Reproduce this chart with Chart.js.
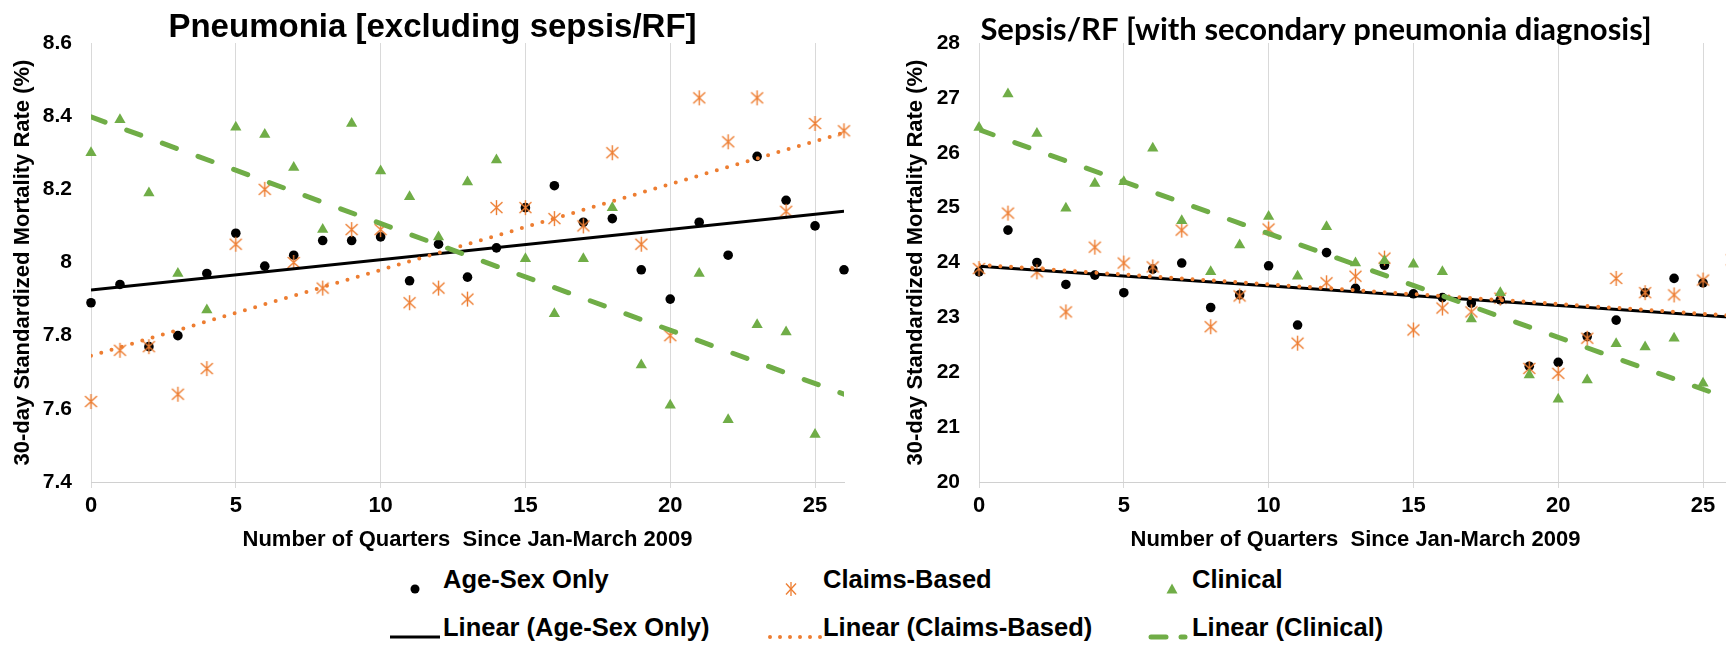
<!DOCTYPE html>
<html>
<head>
<meta charset="utf-8">
<script src="https://cdn.jsdelivr.net/npm/chart.js@4.4.1/dist/chart.umd.min.js"></script>
<style>
    html, body { margin: 0; padding: 0; background: #fff; width: 1726px; height: 654px; overflow: hidden; }
    #left_chart { position: absolute; left: 0; top: 0; }
    #right_chart { position: absolute; left: 860px; top: 0; }
    .legend_item { position: absolute; height: 48px; line-height: 48px; white-space: nowrap;
        font: bold 25.5px "Liberation Sans", Arial, sans-serif; color: #000; }
    .legend_item svg { position: absolute; left: 0; top: 0; }
    .legend_item span { position: absolute; top: 0; }
</style>
</head>
<body>
<canvas id="left_chart" width="865" height="554"></canvas>
<canvas id="right_chart" width="912" height="554"></canvas>
<div id="legend"></div>
<script>
'use strict';

const quarters = [0, 1, 2, 3, 4, 5, 6, 7, 8, 9, 10, 11, 12, 13, 14, 15, 16, 17, 18, 19, 20, 21, 22, 23, 24, 25, 26];
const xTicks = [0, 5, 10, 15, 20, 25];
const trendX = [0, 26];

// Pneumonia [excluding sepsis/RF]
const leftAgeSex = [7.89, 7.94, 7.77, 7.80, 7.97, 8.08, 7.99, 8.02, 8.06, 8.06, 8.07, 7.95, 8.05, 7.96,
    8.04, 8.15, 8.21, 8.11, 8.12, 7.98, 7.90, 8.11, 8.02, 8.29, 8.17, 8.10, 7.98];
const leftClaims = [7.62, 7.76, 7.77, 7.64, 7.71, 8.05, 8.20, 8.00, 7.93, 8.09, 8.09, 7.89, 7.93, 7.90,
    8.15, 8.15, 8.12, 8.10, 8.30, 8.05, 7.80, 8.45, 8.33, 8.45, 8.14, 8.38, 8.36];
const leftClinical = [8.30, 8.39, 8.19, 7.97, 7.87, 8.37, 8.35, 8.26, 8.09, 8.38, 8.25, 8.18, 8.07, 8.22,
    8.28, 8.01, 7.86, 8.01, 8.15, 7.72, 7.61, 7.97, 7.57, 7.83, 7.81, 7.53, null];
const leftAgeSexTrend = [7.925, 8.14];
const leftClaimsTrend = [7.745, 8.355];
const leftClinicalTrend = [8.398, 7.64];
const leftYTicks = [7.4, 7.6, 7.8, 8, 8.2, 8.4, 8.6];
const leftYLabels = ['7.4', '7.6', '7.8', '8', '8.2', '8.4', '8.6'];

// Sepsis/RF [with secondary pneumonia diagnosis]
const rightAgeSex = [23.83, 24.59, 24.00, 23.60, 23.77, 23.45, 23.88, 23.99, 23.18, 23.41, 23.94, 22.86, 24.18, 23.53,
    23.95, 23.43, 23.36, 23.26, 23.32, 22.11, 22.18, 22.65, 22.95, 23.45, 23.71, 23.63, null];
const rightClaims = [23.89, 24.90, 23.83, 23.10, 24.28, 23.99, 23.92, 24.59, 22.83, 23.39, 24.61, 22.53, 23.63, 23.75,
    24.08, 22.77, 23.17, 23.10, 23.35, 22.07, 21.98, 22.62, 23.71, 23.45, 23.41, 23.68, 24.05];
const rightClinical = [26.46, 27.07, 26.35, 24.99, 25.44, 25.47, 26.08, 24.76, 23.83, 24.32, 24.84, 23.75, 24.65, 23.99,
    24.03, 23.97, 23.83, 22.97, 23.45, 21.95, 21.51, 21.86, 22.52, 22.46, 22.62, 21.80, null];
const rightAgeSexTrend = [23.93, 23.0];
const rightClaimsTrend = [23.96, 23.03];
const rightClinicalTrend = [26.42, 21.5];
const rightYTicks = [20, 21, 22, 23, 24, 25, 26, 27, 28];
const rightYLabels = ['20', '21', '22', '23', '24', '25', '26', '27', '28'];

const seriesNames = ['Age-Sex Only', 'Claims-Based', 'Clinical'];
const xTitle = 'Number of Quarters  Since Jan-March 2009';
const yTitle = '30-day Standardized Mortality Rate (%)';

const BLACK = '#000000';
const ORANGE = '#ED7D31';
const GREEN = '#70AD47';
const ARIAL = '"Liberation Sans", Arial, sans-serif';

function make_star() {
    const c = document.createElement('canvas');
    c.width = 17;
    c.height = 17;
    const ctx = c.getContext('2d');
    ctx.strokeStyle = ORANGE;
    ctx.lineWidth = 1.4;
    ctx.beginPath();
    ctx.moveTo(2.5, 3); ctx.lineTo(14.5, 14);
    ctx.moveTo(14.5, 3); ctx.lineTo(2.5, 14);
    ctx.moveTo(8.5, 1); ctx.lineTo(8.5, 16);
    ctx.stroke();
    return c;
}
const star = make_star();

function points(values) {
    return values.map((v, i) => ({x: quarters[i], y: v}));
}

function trend(ends) {
    return trendX.map((x, i) => ({x: x, y: ends[i]}));
}

function build_datasets(ageSex, claims, clinical, ageSexTrend, claimsTrend, clinicalTrend) {
    return [{
        label: seriesNames[0], data: points(ageSex), order: 6, clip: false,
        pointStyle: 'circle', pointRadius: 4.8, borderWidth: 0,
        backgroundColor: BLACK, borderColor: BLACK,
    }, {
        label: seriesNames[1], data: points(claims), order: 5, clip: false,
        pointStyle: star, pointRadius: 8,
        backgroundColor: ORANGE, borderColor: ORANGE,
    }, {
        label: seriesNames[2], data: points(clinical), order: 4, clip: false,
        pointStyle: 'triangle', pointRadius: 6.5, borderWidth: 0,
        backgroundColor: GREEN, borderColor: GREEN,
    }, {
        label: 'Linear (' + seriesNames[0] + ')', data: trend(ageSexTrend), order: 3,
        showLine: true, pointRadius: 0, borderWidth: 3, borderColor: BLACK,
    }, {
        label: 'Linear (' + seriesNames[1] + ')', data: trend(claimsTrend), order: 2,
        showLine: true, pointRadius: 0, borderWidth: 4, borderColor: ORANGE,
        borderDash: [0, 10.7], borderCapStyle: 'round',
    }, {
        label: 'Linear (' + seriesNames[2] + ')', data: trend(clinicalTrend), order: 1,
        showLine: true, pointRadius: 0, borderWidth: 5, borderColor: GREEN,
        borderDash: [15, 23], borderCapStyle: 'round',
    }];
}

function draw_chart(id, opts) {
    const ctx = document.getElementById(id).getContext('2d');
    return new Chart(ctx, {
        type: 'scatter',
        data: {
            datasets: build_datasets(opts.ageSex, opts.claims, opts.clinical,
                opts.ageSexTrend, opts.claimsTrend, opts.clinicalTrend),
        },
        options: {
            responsive: false,
            animation: false,
            events: [],
            layout: {padding: 0},
            plugins: {
                legend: {display: false},
                tooltip: {enabled: false},
                title: {
                    display: true,
                    text: opts.title,
                    color: BLACK,
                    font: opts.titleFont,
                    padding: opts.titlePad,
                },
            },
            scales: {
                x: {
                    type: 'linear', min: 0, max: 26,
                    afterBuildTicks: (s) => { s.ticks = xTicks.map((v) => ({value: v})); },
                    afterFit: (s) => { s.height = 72; },
                    ticks: {color: BLACK, padding: 5, font: {family: ARIAL, size: 22, weight: 'bold'}},
                    grid: {color: '#d9d9d9', lineWidth: 1, tickLength: 6},
                    border: {color: '#d0d0d0'},
                    title: {
                        display: true, text: xTitle, color: BLACK,
                        font: {family: ARIAL, size: 22, weight: 'bold'},
                        padding: {top: 0, bottom: 1},
                    },
                },
                y: {
                    type: 'linear', min: opts.yTicks[0], max: opts.yTicks[opts.yTicks.length - 1],
                    afterBuildTicks: (s) => { s.ticks = opts.yTicks.map((v) => ({value: v})); },
                    afterFit: (s) => { s.width = opts.yWidth; },
                    ticks: {
                        color: BLACK, padding: 19,
                        font: {family: ARIAL, size: 21, weight: 'bold'},
                        callback: (v, i) => opts.yLabels[i],
                    },
                    grid: {display: false, drawTicks: false},
                    border: {display: false},
                    title: {
                        display: true, text: yTitle, color: BLACK,
                        font: {family: ARIAL, size: 22, weight: 'bold'},
                        padding: {top: opts.yTitlePad, bottom: 0},
                    },
                },
                // empty box on the right, keeps the title centred like the original
                pad: {
                    type: 'linear', position: 'right',
                    afterFit: (s) => { s.width = opts.rightPad; },
                    ticks: {display: false},
                    grid: {display: false, drawTicks: false},
                    border: {display: false},
                },
            },
        },
    });
}

function legend_symbol(kind) {
    const ns = 'http://www.w3.org/2000/svg';
    const svg = document.createElementNS(ns, 'svg');
    svg.setAttribute('width', '60');
    svg.setAttribute('height', '48');
    let html = '';
    if (kind === 'dot') {
        html = '<circle cx="25" cy="24" r="4.5" fill="' + BLACK + '"/>';
    } else if (kind === 'star') {
        html = '<g stroke="' + ORANGE + '" stroke-width="1.3">' +
            '<line x1="19" y1="18.5" x2="29" y2="29.5"/><line x1="29" y1="18.5" x2="19" y2="29.5"/>' +
            '<line x1="24" y1="17" x2="24" y2="31"/></g>';
    } else if (kind === 'triangle') {
        html = '<polygon points="24,18.5 29.5,28.5 18.5,28.5" fill="' + GREEN + '"/>';
    } else if (kind === 'solid') {
        html = '<line x1="0" y1="24" x2="50" y2="24" stroke="' + BLACK + '" stroke-width="3"/>';
    } else if (kind === 'dotted') {
        html = '<line x1="3" y1="24" x2="54" y2="24" stroke="' + ORANGE + '" stroke-width="4" ' +
            'stroke-linecap="round" stroke-dasharray="0 10"/>';
    } else {
        html = '<g stroke="' + GREEN + '" stroke-width="5" stroke-linecap="round">' +
            '<line x1="3" y1="24" x2="18" y2="24"/><line x1="33" y1="24" x2="37" y2="24"/></g>';
    }
    svg.innerHTML = html;
    return svg;
}

function build_legend() {
    const legend = document.getElementById('legend');
    const columns = [{left: 390, gap: 53}, {left: 767, gap: 56}, {left: 1148, gap: 44}];
    const rows = [
        {top: 565, symbols: ['dot', 'star', 'triangle'], names: seriesNames},
        {top: 613, symbols: ['solid', 'dotted', 'dashed'], names: seriesNames.map((n) => 'Linear (' + n + ')')},
    ];
    rows.forEach((row) => {
        columns.forEach((col, i) => {
            const item = document.createElement('div');
            item.className = 'legend_item';
            item.style.left = col.left + 'px';
            item.style.top = row.top + 'px';
            item.appendChild(legend_symbol(row.symbols[i]));
            const text = document.createElement('span');
            text.style.left = col.gap + 'px';
            text.textContent = row.names[i];
            item.appendChild(text);
            legend.appendChild(item);
        });
    });
}

document.addEventListener('DOMContentLoaded', function(_event) {
    draw_chart('left_chart', {
        title: 'Pneumonia [excluding sepsis/RF]',
        titleFont: {family: ARIAL, size: 33, weight: 'bold', lineHeight: 1},
        titlePad: {top: 11, bottom: -1},
        ageSex: leftAgeSex, claims: leftClaims, clinical: leftClinical,
        ageSexTrend: leftAgeSexTrend, claimsTrend: leftClaimsTrend, clinicalTrend: leftClinicalTrend,
        yTicks: leftYTicks, yLabels: leftYLabels,
        yWidth: 91, yTitlePad: 10, rightPad: 21,
    });
    draw_chart('right_chart', {
        title: 'Sepsis/RF [with secondary pneumonia diagnosis]',
        titleFont: {family: 'Lato, "Open Sans", sans-serif', size: 31, weight: 'bold', lineHeight: 1},
        titlePad: {top: 14, bottom: -2},
        ageSex: rightAgeSex, claims: rightClaims, clinical: rightClinical,
        ageSexTrend: rightAgeSexTrend, claimsTrend: rightClaimsTrend, clinicalTrend: rightClinicalTrend,
        yTicks: rightYTicks, yLabels: rightYLabels,
        yWidth: 119, yTitlePad: 43, rightPad: 40,
    });
    build_legend();
});
</script>
</body>
</html>
